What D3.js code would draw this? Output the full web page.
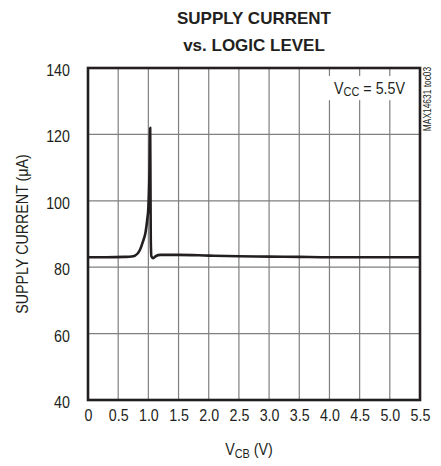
<!DOCTYPE html>
<html>
<head>
<meta charset="utf-8">
<script src="https://cdn.jsdelivr.net/npm/d3@7"></script>
<style>
  body { margin: 0; background: #fff; }
  svg text { font-family: "Liberation Sans", Arial, sans-serif; fill: #231f20; }
</style>
</head>
<body>
<div id="chart"></div>
<script>
/*********** DONNEES ***********/

// courbe : V_CB (V) -> courant (µA)
let vcb = [0, 0.3, 0.6, 0.72, 0.78, 0.86, 0.91, 0.955, 0.98, 1.0, 1.02, 1.03, 1.035, 1.04, 1.05, 1.08, 1.12, 1.2, 1.5, 2.0, 2.5, 3.0, 3.5, 4.0, 4.5, 5.0, 5.5]
let courant = [83.0, 83.0, 83.1, 83.2, 83.5, 85.2, 87.7, 90.7, 94.2, 98, 110, 122, 105, 88, 83.3, 82.7, 83.3, 83.7, 83.7, 83.5, 83.3, 83.2, 83.1, 83.0, 83.0, 83.0, 83.0]

let xTicks = [0, 0.5, 1.0, 1.5, 2.0, 2.5, 3.0, 3.5, 4.0, 4.5, 5.0, 5.5]
let xTickLabels = ["0", "0.5", "1.0", "1.5", "2.0", "2.5", "3.0", "3.5", "4.0", "4.5", "5.0", "5.5"]
let yTicks = [40, 60, 80, 100, 120, 140]

/*********** GRAPHIQUE ***********/

let width = 441, height = 466
let margin = { top: 68, right: 21, bottom: 66, left: 88 }
let etroit = "scale(0.84,1)"   // police un peu condensee comme l'original

let svg = d3.select("#chart").append("svg")
    .attr("width", width)
    .attr("height", height)

let x = d3.scaleLinear().domain([0, 5.5]).range([margin.left, width - margin.right])
let y = d3.scaleLinear().domain([40, 140]).range([height - margin.bottom, margin.top])

// grille
svg.append("g")
    .selectAll("line")
    .data(xTicks.slice(1, -1))
    .enter().append("line")
    .attr("x1", d => x(d)).attr("x2", d => x(d))
    .attr("y1", y(40)).attr("y2", y(140))
    .attr("stroke", "#7f7f7f").attr("stroke-width", 1.2)

svg.append("g")
    .selectAll("line")
    .data(yTicks.slice(1, -1))
    .enter().append("line")
    .attr("x1", x(0)).attr("x2", x(5.5))
    .attr("y1", d => y(d)).attr("y2", d => y(d))
    .attr("stroke", "#7f7f7f").attr("stroke-width", 1.2)

// fond blanc derriere l'annotation
svg.append("rect")
    .attr("x", x(3.95)).attr("y", y(137.6))
    .attr("width", x(5.48) - x(3.95)).attr("height", y(130.3) - y(137.6))
    .attr("fill", "#fff")

// courbe
let ligne = d3.line()
    .x((d, i) => x(vcb[i]))
    .y(d => y(d))
    .curve(d3.curveMonotoneX)

svg.append("path")
    .datum(courant)
    .attr("d", ligne)
    .attr("fill", "none")
    .attr("stroke", "#231f20")
    .attr("stroke-width", 2.6)
    .attr("stroke-linejoin", "round")

// cadre
svg.append("rect")
    .attr("x", x(0)).attr("y", y(140))
    .attr("width", x(5.5) - x(0)).attr("height", y(40) - y(140))
    .attr("fill", "none")
    .attr("stroke", "#231f20")
    .attr("stroke-width", 2.6)

// axes (seulement les etiquettes)
let axeX = svg.append("g")
    .attr("transform", "translate(0," + (y(40) + 15) + ")")
    .call(d3.axisBottom(x).tickValues(xTicks).tickFormat((d, i) => xTickLabels[i]).tickSize(0))
axeX.select(".domain").remove()
axeX.selectAll("text").attr("font-size", 17).attr("y", 0).attr("dy", "0.36em")
    .attr("transform", etroit)
    .style("font-family", "'Liberation Sans', Arial, sans-serif").attr("fill", "#231f20")

let axeY = svg.append("g")
    .attr("transform", "translate(" + (x(0) - 18) + ",2)")
    .call(d3.axisLeft(y).tickValues(yTicks).tickSize(0))
axeY.select(".domain").remove()
axeY.selectAll("text").attr("font-size", 17).attr("x", 0)
    .attr("transform", etroit)
    .style("font-family", "'Liberation Sans', Arial, sans-serif").attr("fill", "#231f20")

// titres
svg.append("text")
    .attr("x", 254).attr("y", 24)
    .attr("text-anchor", "middle")
    .attr("font-size", 17).attr("font-weight", "bold")
    .text("SUPPLY CURRENT")

svg.append("text")
    .attr("x", 254).attr("y", 51)
    .attr("text-anchor", "middle")
    .attr("font-size", 17).attr("font-weight", "bold")
    .text("vs. LOGIC LEVEL")

// label axe Y
svg.append("text")
    .attr("transform", "translate(28," + ((y(40) + y(140)) / 2) + ") rotate(-90) " + etroit)
    .attr("text-anchor", "middle")
    .attr("font-size", 17)
    .text("SUPPLY CURRENT (μA)")

// label axe X
let labelX = svg.append("text")
    .attr("transform", "translate(249,455) " + etroit)
    .attr("text-anchor", "middle")
    .attr("font-size", 17)
labelX.append("tspan").text("V")
labelX.append("tspan").attr("font-size", 13).attr("dy", 3).text("CB")
labelX.append("tspan").attr("dy", -3).text(" (V)")

// annotation
let annot = svg.append("text")
    .attr("transform", "translate(405,94) " + etroit)
    .attr("text-anchor", "end")
    .attr("font-size", 17)
annot.append("tspan").text("V")
annot.append("tspan").attr("font-size", 13).attr("dy", 2).text("CC")
annot.append("tspan").attr("dy", -2).text(" = 5.5V")

// reference de la figure
svg.append("text")
    .attr("transform", "translate(431,99) rotate(-90) " + etroit)
    .attr("text-anchor", "middle")
    .attr("font-size", 10)
    .text("MAX14631 toc03")
</script>
</body>
</html>
